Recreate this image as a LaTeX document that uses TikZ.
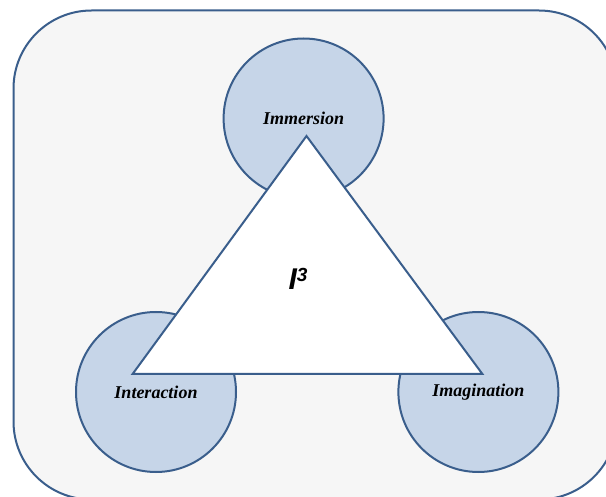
\documentclass[tikz,border=0pt]{standalone}
\usepackage{fontspec}
\setmainfont{Liberation Serif}
\newfontfamily\isans{Liberation Sans}
\definecolor{edge}{HTML}{3A5E8C}
\definecolor{bgfill}{HTML}{F6F6F6}
\definecolor{cfill}{HTML}{C6D5E8}
\tikzset{
  frame/.style={draw=edge, fill=bgfill, line width=2pt, rounded corners=78pt},
  bubble/.style={circle, draw=edge, fill=cfill, line width=2pt, minimum size=160pt, inner sep=0pt},
  core/.style={draw=edge, fill=white, line width=2pt, line join=miter},
  lbl/.style={font=\fontsize{18}{21}\selectfont\bfseries\itshape},
  mainlbl/.style={font=\isans\fontsize{30}{33}\selectfont\bfseries\itshape}
}
\begin{document}
\begin{tikzpicture}[x=1pt,y=-1pt]
\useasboundingbox (0,0) rectangle (606,497);
\clip (0,0) rectangle (606,497);
\draw[frame] (13.5,10.5) rectangle (617,499.5);
\node[bubble] (imm) at (303.6,118.5) {};
\node[bubble] (int) at (156,392) {};
\node[bubble] (ima) at (478.4,392) {};
\coordinate (apex) at (306.5,136);
\coordinate (bl) at (132.6,374);
\coordinate (br) at (482.4,374);
\draw[core] (apex) -- (bl) -- (br) -- cycle;
\node[lbl] (timm) at (imm) {Immersion};
\node[lbl] (tint) at (int) {Interaction};
\node[lbl] (tima) at (ima) {Imagination};
\node[mainlbl] (i3) at (298,279) {I\raisebox{8pt}{\fontsize{19}{21}\selectfont 3}};
\end{tikzpicture}
\end{document}
